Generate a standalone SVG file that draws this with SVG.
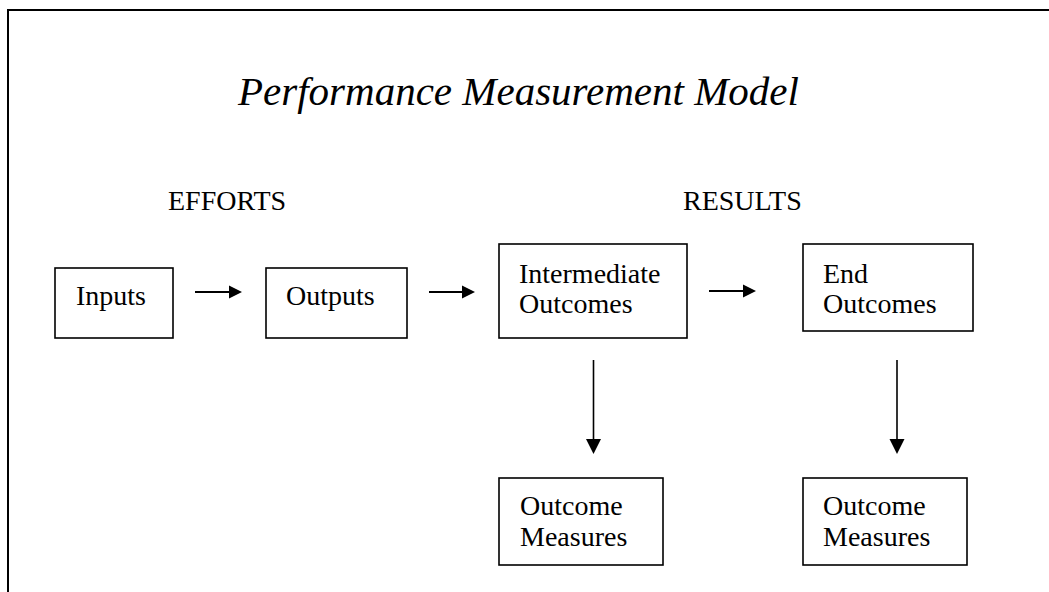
<svg xmlns="http://www.w3.org/2000/svg" width="1049" height="592" viewBox="0 0 1049 592">
  <style>
    .frame { fill: none; stroke: #000; stroke-width: 2; }
    .box { fill: #fff; stroke: #000; stroke-width: 1.6; }
    .lbl { font-family: "Liberation Serif", "Times New Roman", serif; font-size: 28px; fill: #000; }
    .title { font-family: "Liberation Serif", "Times New Roman", serif; font-size: 41px; font-style: italic; fill: #000; }
    .flow { stroke: #000; stroke-width: 2; fill: none; }
    .drop { stroke: #000; stroke-width: 1.6; fill: none; }
    .head { fill: #000; stroke: none; }
  </style>

  <rect width="1049" height="592" fill="#fff"/>
  <!-- outer frame runs off the right and bottom edges -->
  <rect class="frame" x="8" y="10" width="1100" height="700"/>

  <text class="title" x="238" y="105">Performance Measurement Model</text>
  <text class="lbl" x="168" y="210">EFFORTS</text>
  <text class="lbl" x="683" y="210">RESULTS</text>

  <g id="inputs">
    <rect class="box" x="55" y="268" width="118" height="70"/>
    <text class="lbl" x="76" y="305">Inputs</text>
  </g>
  <g id="outputs">
    <rect class="box" x="266" y="268" width="141" height="70"/>
    <text class="lbl" x="286" y="305">Outputs</text>
  </g>
  <g id="intermediate-outcomes">
    <rect class="box" x="499" y="244" width="188" height="94"/>
    <text class="lbl" x="519" y="283">Intermediate</text>
    <text class="lbl" x="519" y="313">Outcomes</text>
  </g>
  <g id="end-outcomes">
    <rect class="box" x="803" y="244" width="170" height="87"/>
    <text class="lbl" x="823" y="283">End</text>
    <text class="lbl" x="823" y="313">Outcomes</text>
  </g>
  <g id="outcome-measures-1">
    <rect class="box" x="499" y="478" width="164" height="87"/>
    <text class="lbl" x="520" y="515">Outcome</text>
    <text class="lbl" x="520" y="546">Measures</text>
  </g>
  <g id="outcome-measures-2">
    <rect class="box" x="803" y="478" width="164" height="87"/>
    <text class="lbl" x="823" y="515">Outcome</text>
    <text class="lbl" x="823" y="546">Measures</text>
  </g>

  <g id="connectors">
    <line class="flow" x1="195" y1="292" x2="229" y2="292"/>
    <polygon class="head" points="229,285.5 242,292 229,298.5"/>
    <line class="flow" x1="429" y1="292" x2="462" y2="292"/>
    <polygon class="head" points="462,285.5 475,292 462,298.5"/>
    <line class="flow" x1="709" y1="291" x2="743" y2="291"/>
    <polygon class="head" points="743,284.5 756,291 743,297.5"/>
    <line class="drop" x1="593.5" y1="360" x2="593.5" y2="440"/>
    <polygon class="head" points="586,439 601,439 593.5,454"/>
    <line class="drop" x1="897" y1="360" x2="897" y2="440"/>
    <polygon class="head" points="889.5,439 904.5,439 897,454"/>
  </g>
</svg>
